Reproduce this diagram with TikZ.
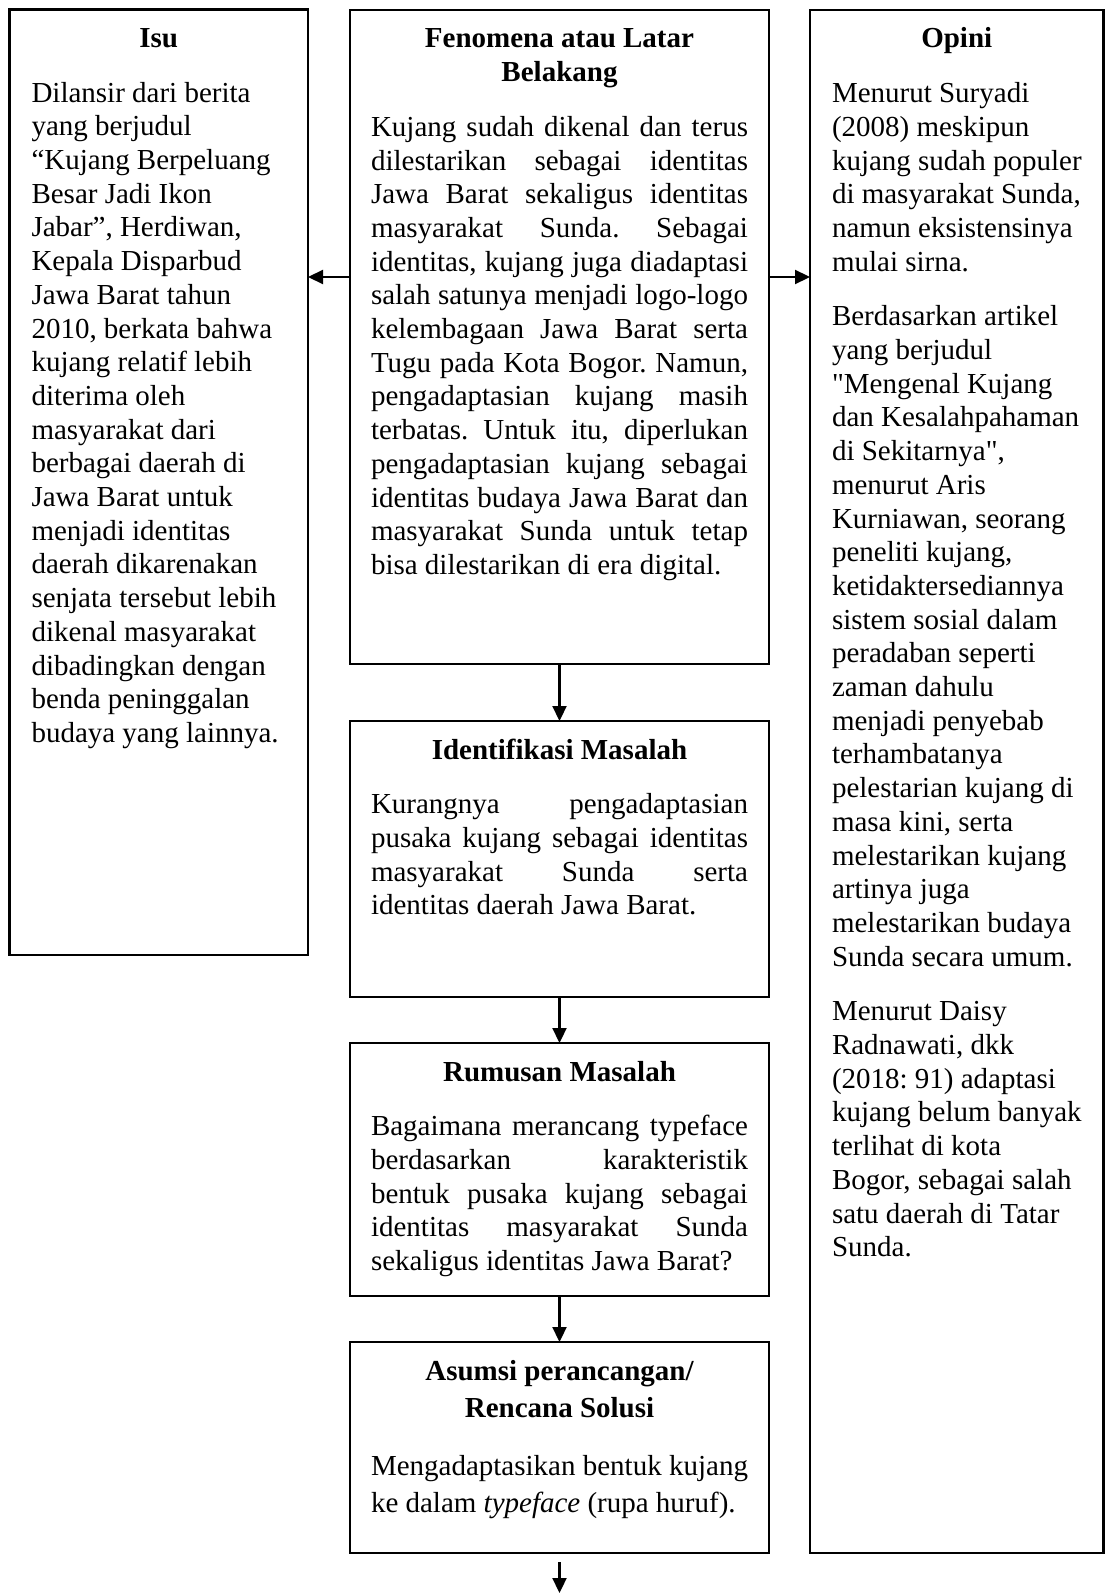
\documentclass[tikz,border=0pt]{standalone}
\usepackage{fontspec}
\setmainfont{Liberation Serif}[Ligatures=TeXOff]
\usetikzlibrary{arrows.meta}

\newcommand{\judul}[1]{{\centering\rule{0pt}{38pt}\textbf{#1}\par}\vspace{21pt}}
\newcommand{\isi}[3]{\parbox[t][#2][t]{#1}{\fontsize{29}{33.7}\selectfont
  \frenchspacing\hyphenpenalty=10000\exhyphenpenalty=10000\tolerance=10000 #3}}
\newcommand{\rata}{\leftskip=21pt\rightskip=21pt}
\newcommand{\kiri}{\leftskip=22pt\rightskip=0pt plus 1fil}

\begin{document}
\begin{tikzpicture}[x=1pt,y=1pt,
  kotak/.style={draw, line width=2.6pt, inner sep=0pt, outer sep=0pt, anchor=north west},
  panah/.style={line width=2.2pt, -{Triangle[length=15pt,width=14pt]}}]
\useasboundingbox (0,0) rectangle (1105,-1594);

\node[kotak] (isu) at (9.5,-9.5) {\isi{298.5pt}{945.5pt}{\judul{Isu}\kiri
Dilansir dari berita\\ yang berjudul\\ “Kujang Berpeluang\\ Besar Jadi Ikon\\
Jabar”, Herdiwan,\\ Kepala Disparbud\\ Jawa Barat tahun\\ 2010, berkata bahwa\\
kujang relatif lebih\\ diterima oleh\\ masyarakat dari\\ berbagai daerah di\\
Jawa Barat untuk\\ menjadi identitas\\ daerah dikarenakan\\ senjata tersebut lebih\\
dikenal masyarakat\\ dibadingkan dengan\\ benda peninggalan\\ budaya yang lainnya.}};

\node[kotak] (latar) at (350,-10) {\isi{419pt}{654pt}{\judul{Fenomena atau Latar\\ Belakang}\rata
Kujang sudah dikenal dan terus\linebreak dilestarikan sebagai identitas\linebreak
Jawa Barat sekaligus identitas\linebreak masyarakat Sunda. Sebagai\linebreak
identitas, kujang juga diadaptasi\linebreak salah satunya menjadi logo-logo\linebreak
kelembagaan Jawa Barat serta\linebreak Tugu pada Kota Bogor. Namun,\linebreak
pengadaptasian kujang masih\linebreak terbatas. Untuk itu, diperlukan\linebreak
pengadaptasian kujang sebagai\linebreak identitas budaya Jawa Barat dan\linebreak
masyarakat Sunda untuk tetap\linebreak bisa dilestarikan di era digital.}};

\node[kotak] (identifikasi) at (350,-721) {\isi{419pt}{276pt}{\judul{Identifikasi Masalah}\rata
Kurangnya pengadaptasian\linebreak pusaka kujang sebagai identitas\linebreak
masyarakat Sunda serta\linebreak identitas daerah Jawa Barat.}};

\node[kotak] (rumusan) at (350,-1043) {\isi{419pt}{253pt}{\judul{Rumusan Masalah}\rata
Bagaimana merancang typeface\linebreak berdasarkan karakteristik\linebreak
bentuk pusaka kujang sebagai\linebreak identitas masyarakat Sunda\linebreak
sekaligus identitas Jawa Barat?}};

\node[kotak] (asumsi) at (350,-1342) {\isi{419pt}{211pt}{\fontsize{29}{37}\selectfont
\judul{Asumsi perancangan/\\ Rencana Solusi}\rata
Mengadaptasikan bentuk kujang\linebreak ke dalam \textit{typeface} (rupa huruf).}};

\node[kotak] (opini) at (810,-10) {\isi{293.5pt}{1543pt}{\judul{Opini}\kiri
Menurut Suryadi\\ (2008) meskipun\\ kujang sudah populer\\ di masyarakat Sunda,\\
namun eksistensinya\\ mulai sirna.\par\vspace{21pt}
Berdasarkan artikel\\ yang berjudul\\ "Mengenal Kujang\\ dan Kesalahpahaman\\
di Sekitarnya",\\ menurut Aris\\ Kurniawan, seorang\\ peneliti kujang,\\
ketidaktersediannya\\ sistem sosial dalam\\ peradaban seperti\\ zaman dahulu\\
menjadi penyebab\\ terhambatanya\\ pelestarian kujang di\\ masa kini, serta\\
melestarikan kujang\\ artinya juga\\ melestarikan budaya\\ Sunda secara umum.\par\vspace{21pt}
Menurut Daisy\\ Radnawati, dkk\\ (2018: 91) adaptasi\\ kujang belum banyak\\
terlihat di kota\\ Bogor, sebagai salah\\ satu daerah di Tatar\\ Sunda.}};

\coordinate (ujung) at (559.5,-1593);

\draw[panah] ([yshift=60pt]latar.west) -- ([yshift=60pt]latar.west -| isu.east);
\draw[panah] ([yshift=60pt]latar.east) -- ([yshift=60pt]latar.east -| opini.west);
\draw[panah] (latar.south) -- (identifikasi.north);
\draw[panah] (identifikasi.south) -- (rumusan.north);
\draw[panah] (rumusan.south) -- (asumsi.north);
\draw[panah] ([yshift=-9pt]asumsi.south) -- (ujung);
\end{tikzpicture}
\end{document}
